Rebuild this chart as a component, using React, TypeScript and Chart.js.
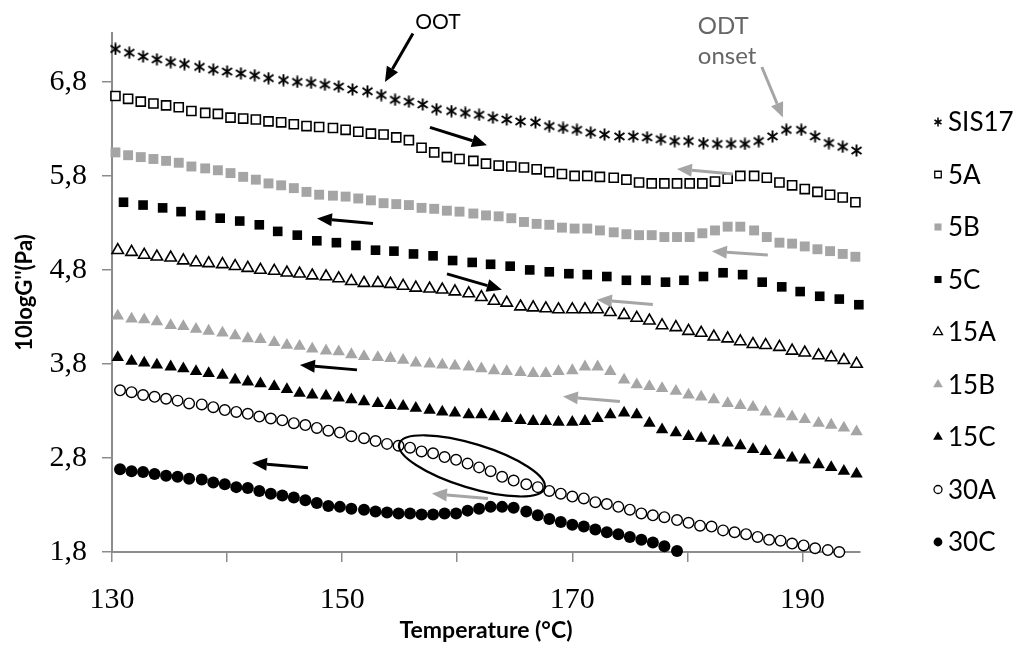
import { useEffect, useRef } from 'react';
import { Chart, registerables } from 'chart.js';
import { drawPoint } from 'chart.js/helpers';

Chart.register(...registerables);

// Temperature grids (°C) of the individual sweeps
const tempSIS17 = [130.3, 131.5, 132.7, 133.9, 135.1, 136.3, 137.6, 138.8, 140.0, 141.2, 142.4, 143.6, 144.9, 146.1, 147.3, 148.5, 149.7, 150.9, 152.2, 153.4, 154.6, 155.8, 157.0, 158.2, 159.5, 160.7, 161.9, 163.1, 164.3, 165.5, 166.8, 168.0, 169.2, 170.4, 171.6, 172.8, 174.1, 175.3, 176.5, 177.7, 178.9, 180.1, 181.4, 182.6, 183.8, 185.0, 186.2, 187.4, 188.6, 189.9, 191.1, 192.3, 193.5, 194.7];
const temp5AB = [130.3, 131.4, 132.5, 133.6, 134.7, 135.8, 136.9, 138.1, 139.2, 140.3, 141.4, 142.5, 143.6, 144.7, 145.8, 146.9, 148.0, 149.2, 150.3, 151.4, 152.5, 153.6, 154.7, 155.8, 156.9, 158.0, 159.1, 160.2, 161.4, 162.5, 163.6, 164.7, 165.8, 166.9, 168.0, 169.1, 170.2, 171.3, 172.4, 173.6, 174.7, 175.8, 176.9, 178.0, 179.1, 180.2, 181.3, 182.4, 183.5, 184.6, 185.8, 186.9, 188.0, 189.1, 190.2, 191.3, 192.4, 193.5, 194.6];
const temp5C = [131.0, 132.7, 134.4, 136.0, 137.7, 139.4, 141.1, 142.8, 144.4, 146.1, 147.8, 149.5, 151.2, 152.9, 154.5, 156.2, 157.9, 159.6, 161.3, 162.9, 164.6, 166.3, 168.0, 169.7, 171.3, 173.0, 174.7, 176.4, 178.1, 179.7, 181.4, 183.1, 184.8, 186.5, 188.2, 189.8, 191.5, 193.2, 194.9];
const temp15 = [130.5, 131.7, 132.8, 133.9, 135.1, 136.2, 137.3, 138.4, 139.6, 140.7, 141.8, 142.9, 144.1, 145.2, 146.3, 147.4, 148.6, 149.7, 150.8, 151.9, 153.1, 154.2, 155.3, 156.4, 157.6, 158.7, 159.8, 161.0, 162.1, 163.2, 164.3, 165.5, 166.6, 167.7, 168.8, 170.0, 171.1, 172.2, 173.3, 174.5, 175.6, 176.7, 177.8, 179.0, 180.1, 181.2, 182.3, 183.5, 184.6, 185.7, 186.8, 188.0, 189.1, 190.2, 191.4, 192.5, 193.6, 194.7];
const temp30 = [130.7, 131.7, 132.7, 133.7, 134.7, 135.7, 136.7, 137.8, 138.8, 139.8, 140.8, 141.8, 142.8, 143.8, 144.8, 145.8, 146.8, 147.8, 148.8, 149.8, 150.8, 151.9, 152.9, 153.9, 154.9, 155.9, 156.9, 157.9, 158.9, 159.9, 160.9, 161.9, 162.9, 163.9, 164.9, 166.0, 167.0, 168.0, 169.0, 170.0, 171.0, 172.0, 173.0, 174.0, 175.0, 176.0, 177.0, 178.0, 179.1, 180.1, 181.1, 182.1, 183.1, 184.1, 185.1, 186.1, 187.1, 188.1, 189.1, 190.1, 191.1, 192.2, 193.2];

// 10logG'' values of each sample
const gSIS17 = [7.15, 7.11, 7.07, 7.04, 7.01, 6.99, 6.96, 6.93, 6.91, 6.89, 6.87, 6.84, 6.82, 6.80, 6.79, 6.77, 6.75, 6.72, 6.70, 6.66, 6.61, 6.59, 6.56, 6.51, 6.49, 6.47, 6.45, 6.42, 6.40, 6.38, 6.37, 6.33, 6.31, 6.29, 6.26, 6.24, 6.22, 6.22, 6.21, 6.19, 6.17, 6.17, 6.15, 6.14, 6.14, 6.14, 6.17, 6.22, 6.29, 6.29, 6.22, 6.15, 6.11, 6.07];
const g5A = [6.65, 6.62, 6.59, 6.57, 6.55, 6.53, 6.49, 6.47, 6.46, 6.42, 6.41, 6.40, 6.38, 6.37, 6.35, 6.33, 6.32, 6.31, 6.29, 6.27, 6.25, 6.24, 6.21, 6.18, 6.10, 6.05, 6.00, 5.98, 5.96, 5.93, 5.91, 5.90, 5.89, 5.87, 5.84, 5.82, 5.80, 5.80, 5.79, 5.78, 5.76, 5.73, 5.72, 5.72, 5.72, 5.72, 5.72, 5.74, 5.77, 5.80, 5.80, 5.78, 5.73, 5.70, 5.66, 5.63, 5.60, 5.57, 5.52];
const g5B = [6.05, 6.02, 6.00, 5.98, 5.96, 5.94, 5.90, 5.88, 5.86, 5.83, 5.79, 5.76, 5.72, 5.70, 5.67, 5.63, 5.60, 5.59, 5.58, 5.56, 5.54, 5.51, 5.50, 5.49, 5.46, 5.45, 5.43, 5.42, 5.40, 5.38, 5.37, 5.35, 5.31, 5.29, 5.28, 5.25, 5.24, 5.24, 5.22, 5.20, 5.18, 5.17, 5.17, 5.15, 5.15, 5.15, 5.19, 5.22, 5.26, 5.26, 5.22, 5.15, 5.09, 5.08, 5.05, 5.02, 5.00, 4.97, 4.94];
const g5C = [5.52, 5.49, 5.46, 5.42, 5.38, 5.35, 5.32, 5.28, 5.21, 5.17, 5.11, 5.09, 5.06, 5.01, 5.00, 4.97, 4.95, 4.90, 4.88, 4.86, 4.84, 4.80, 4.78, 4.76, 4.75, 4.73, 4.69, 4.69, 4.67, 4.69, 4.73, 4.77, 4.75, 4.67, 4.62, 4.57, 4.52, 4.49, 4.43];
const g15A = [5.01, 4.99, 4.96, 4.94, 4.93, 4.90, 4.88, 4.87, 4.86, 4.84, 4.82, 4.80, 4.79, 4.77, 4.76, 4.74, 4.73, 4.71, 4.68, 4.66, 4.66, 4.65, 4.63, 4.61, 4.60, 4.59, 4.57, 4.55, 4.51, 4.47, 4.45, 4.41, 4.40, 4.39, 4.38, 4.38, 4.38, 4.38, 4.35, 4.32, 4.29, 4.26, 4.21, 4.19, 4.15, 4.13, 4.09, 4.07, 4.04, 4.01, 4.00, 3.98, 3.94, 3.92, 3.89, 3.87, 3.84, 3.80];
const g15B = [4.31, 4.28, 4.27, 4.25, 4.21, 4.20, 4.17, 4.15, 4.13, 4.10, 4.07, 4.06, 4.03, 4.00, 3.99, 3.96, 3.94, 3.93, 3.90, 3.88, 3.87, 3.86, 3.84, 3.81, 3.80, 3.79, 3.78, 3.77, 3.75, 3.73, 3.72, 3.71, 3.70, 3.70, 3.72, 3.73, 3.77, 3.77, 3.72, 3.63, 3.58, 3.56, 3.54, 3.51, 3.47, 3.45, 3.42, 3.38, 3.36, 3.34, 3.29, 3.27, 3.24, 3.21, 3.17, 3.15, 3.12, 3.08];
const g15C = [3.87, 3.83, 3.81, 3.79, 3.77, 3.75, 3.72, 3.70, 3.68, 3.63, 3.61, 3.59, 3.56, 3.53, 3.49, 3.47, 3.46, 3.44, 3.42, 3.40, 3.38, 3.36, 3.35, 3.33, 3.31, 3.29, 3.28, 3.26, 3.26, 3.24, 3.22, 3.20, 3.19, 3.19, 3.18, 3.18, 3.19, 3.22, 3.26, 3.28, 3.26, 3.17, 3.10, 3.07, 3.03, 3.01, 2.98, 2.96, 2.93, 2.89, 2.87, 2.83, 2.80, 2.78, 2.73, 2.70, 2.66, 2.63];
const g30A = [3.52, 3.50, 3.47, 3.45, 3.43, 3.41, 3.38, 3.37, 3.34, 3.31, 3.29, 3.27, 3.24, 3.22, 3.20, 3.17, 3.15, 3.12, 3.09, 3.07, 3.03, 3.01, 2.98, 2.95, 2.93, 2.91, 2.87, 2.85, 2.81, 2.78, 2.74, 2.70, 2.66, 2.60, 2.56, 2.52, 2.49, 2.45, 2.42, 2.39, 2.37, 2.33, 2.31, 2.28, 2.25, 2.21, 2.19, 2.17, 2.14, 2.11, 2.08, 2.07, 2.03, 2.01, 1.99, 1.96, 1.93, 1.92, 1.89, 1.87, 1.84, 1.82, 1.80];
const g30C = [2.68, 2.66, 2.65, 2.63, 2.61, 2.60, 2.58, 2.57, 2.54, 2.52, 2.49, 2.48, 2.45, 2.42, 2.40, 2.38, 2.35, 2.32, 2.29, 2.28, 2.26, 2.25, 2.23, 2.22, 2.21, 2.21, 2.20, 2.20, 2.21, 2.21, 2.24, 2.26, 2.28, 2.28, 2.27, 2.23, 2.19, 2.15, 2.12, 2.09, 2.07, 2.04, 2.01, 1.99, 1.96, 1.93, 1.90, 1.86, 1.81];

const seriesNames = ['SIS17', '5A', '5B', '5C', '15A', '15B', '15C', '30A', '30C'];

// Axis ticks
const xTicks = [130, 140, 150, 160, 170, 180, 190];
const xLabelled = [130, 150, 170, 190];
const yTicks = [1.8, 2.8, 3.8, 4.8, 5.8, 6.8];

// Heating / cooling arrows in data units: [T start, value start, T tip, value tip]
const darkArrows = [
  [156.15, 7.316, 153.72, 6.8],
  [157.63, 6.316, 162.58, 6.126],
  [152.68, 5.295, 147.81, 5.347],
  [159.11, 4.758, 163.88, 4.589],
  [151.29, 3.737, 146.33, 3.789],
  [147.03, 2.695, 142.16, 2.747],
];
const greyArrows = [
  [186.47, 6.958, 188.3, 6.42],
  [183.95, 5.821, 179.09, 5.874],
  [186.99, 4.958, 182.13, 5.0],
  [177.0, 4.432, 172.14, 4.484],
  [174.14, 3.4, 169.18, 3.453],
  [162.67, 2.368, 157.8, 2.421],
];

const GREY = '#a5a5a5';
const AXIS = '#8c8c8c';

// "x with a vertical bar" marker
function makeStar(size: number, lw: number) {
  const c = document.createElement('canvas');
  c.width = size;
  c.height = size;
  const g = c.getContext('2d')!;
  g.strokeStyle = '#000';
  g.lineWidth = lw;
  g.lineCap = 'butt';
  const m = 1.5;
  g.beginPath();
  g.moveTo(m, m + 1.5);
  g.lineTo(size - m, size - m - 1.5);
  g.moveTo(size - m, m + 1.5);
  g.lineTo(m, size - m - 1.5);
  g.moveTo(size / 2, 0.5);
  g.lineTo(size / 2, size - 0.5);
  g.stroke();
  return c;
}

function pts(xs: number[], ys: number[]) {
  return ys.map((y, i) => ({ x: xs[i], y }));
}

function arrow(ctx: CanvasRenderingContext2D, x1: number, y1: number, x2: number, y2: number, color: string) {
  const a = Math.atan2(y2 - y1, x2 - x1);
  const head = 15;
  const half = 6.5;
  const bx = x2 - head * Math.cos(a);
  const by = y2 - head * Math.sin(a);
  ctx.strokeStyle = color;
  ctx.fillStyle = color;
  ctx.lineWidth = 3;
  ctx.beginPath();
  ctx.moveTo(x1, y1);
  ctx.lineTo(bx, by);
  ctx.stroke();
  ctx.beginPath();
  ctx.moveTo(x2, y2);
  ctx.lineTo(bx + half * Math.sin(a), by - half * Math.cos(a));
  ctx.lineTo(bx - half * Math.sin(a), by + half * Math.cos(a));
  ctx.closePath();
  ctx.fill();
}

export default function App() {
  const ref = useRef<HTMLCanvasElement | null>(null);

  useEffect(() => {
    if (!ref.current) return;
    const star = makeStar(13, 1.9);
    const starSmall = makeStar(10, 1.5);

    const styles = [
      { pointStyle: star, radius: 6, fill: '#000', stroke: '#000', bw: 0, legend: { pointStyle: starSmall, radius: 4 } },
      { pointStyle: 'rect', radius: 6.4, fill: '#fff', stroke: '#000', bw: 1.6, legend: { pointStyle: 'rect', radius: 4.6 } },
      { pointStyle: 'rect', radius: 7, fill: GREY, stroke: GREY, bw: 0, legend: { pointStyle: 'rect', radius: 5 } },
      { pointStyle: 'rect', radius: 6.8, fill: '#000', stroke: '#000', bw: 0, legend: { pointStyle: 'rect', radius: 5 } },
      { pointStyle: 'triangle', radius: 6.6, fill: '#fff', stroke: '#000', bw: 1.6, legend: { pointStyle: 'triangle', radius: 5.2 } },
      { pointStyle: 'triangle', radius: 7.2, fill: GREY, stroke: GREY, bw: 0, legend: { pointStyle: 'triangle', radius: 5.6 } },
      { pointStyle: 'triangle', radius: 7.2, fill: '#000', stroke: '#000', bw: 0, legend: { pointStyle: 'triangle', radius: 5.6 } },
      { pointStyle: 'circle', radius: 5.3, fill: '#fff', stroke: '#000', bw: 1.4, legend: { pointStyle: 'circle', radius: 4 } },
      { pointStyle: 'circle', radius: 6, fill: '#000', stroke: '#000', bw: 0, legend: { pointStyle: 'circle', radius: 4.4 } },
    ];

    const series = [
      pts(tempSIS17, gSIS17),
      pts(temp5AB, g5A),
      pts(temp5AB, g5B),
      pts(temp5C, g5C),
      pts(temp15, g15A),
      pts(temp15, g15B),
      pts(temp15, g15C),
      pts(temp30, g30A),
      pts(temp30, g30C),
    ];

    const datasets = series.map((data, i) => ({
      label: seriesNames[i],
      data,
      showLine: false,
      pointStyle: styles[i].pointStyle as any,
      pointRadius: styles[i].radius,
      pointBackgroundColor: styles[i].fill,
      pointBorderColor: styles[i].stroke,
      pointBorderWidth: styles[i].bw,
      clip: false as any,
    }));

    const overlay = {
      id: 'overlay',
      afterDraw(chart: any) {
        const { ctx } = chart;
        const xs = chart.scales.x;
        const ys = chart.scales.y;
        const px = (t: number) => xs.getPixelForValue(t);
        const py = (v: number) => ys.getPixelForValue(v);
        ctx.save();

        darkArrows.forEach(([a, b, c, d]) => arrow(ctx, px(a), py(b), px(c), py(d), '#000'));
        greyArrows.forEach(([a, b, c, d]) => arrow(ctx, px(a), py(b), px(c), py(d), GREY));

        // ellipse round the overlapping 30A points
        ctx.strokeStyle = '#000';
        ctx.lineWidth = 2.2;
        ctx.beginPath();
        ctx.ellipse(px(161.28), py(2.716), 76, 22, (17 * Math.PI) / 180, 0, Math.PI * 2);
        ctx.stroke();

        // callouts
        ctx.textBaseline = 'middle';
        ctx.font = '21px Lato';
        ctx.fillStyle = '#000';
        ctx.textAlign = 'center';
        ctx.fillText('OOT', px(158.32), py(7.43));
        ctx.font = '24px Lato';
        ctx.fillStyle = '#666';
        ctx.textAlign = 'left';
        ctx.fillText('ODT', px(180.91), py(7.389));
        ctx.fillText('onset', px(180.91), py(7.074));

        // legend
        const lx = 938;
        const tx = 948;
        ctx.font = '26px Lato';
        ctx.textAlign = 'left';
        styles.forEach((s, i) => {
          const y = 122 + 52.5 * i;
          ctx.fillStyle = s.fill;
          ctx.strokeStyle = s.stroke;
          ctx.lineWidth = s.bw ? 1.3 : 0;
          drawPoint(ctx, { pointStyle: s.legend.pointStyle as any, radius: s.legend.radius, rotation: 0, borderWidth: s.bw ? 1.3 : 0 } as any, lx, y);
          ctx.fillStyle = '#000';
          ctx.fillText(seriesNames[i], tx, y + 1);
        });
        ctx.restore();
      },
    };

    const tickFont = { family: 'Liberation Serif', size: 30 };

    const chart = new Chart(ref.current, {
      type: 'scatter',
      data: { datasets: datasets as any },
      plugins: [overlay],
      options: {
        animation: false,
        responsive: false,
        maintainAspectRatio: false,
        devicePixelRatio: 1,
        layout: { padding: { top: 28, right: 161, left: 0, bottom: 0 } },
        plugins: { legend: { display: false }, tooltip: { enabled: false } },
        scales: {
          x: {
            type: 'linear',
            min: 130,
            max: 195,
            afterBuildTicks: (s: any) => {
              s.ticks = xTicks.map((v) => ({ value: v }));
            },
            afterFit: (s: any) => {
              s.height = 98;
            },
            ticks: {
              autoSkip: false,
              maxRotation: 0,
              padding: 20,
              color: '#000',
              font: tickFont,
              callback: (v: any) => (xLabelled.includes(Number(v)) ? String(v) : ''),
            },
            grid: { drawOnChartArea: false, drawTicks: true, tickLength: 10, color: AXIS, lineWidth: 1.5 },
            border: { display: true, color: AXIS, width: 2 },
            title: {
              display: true,
              text: 'Temperature (°C)',
              color: '#000',
              font: { family: 'Lato', size: 23, weight: 'bold' },
              padding: { top: 0, bottom: 6 },
            },
          },
          y: {
            type: 'linear',
            min: 1.8,
            max: 7.32,
            afterBuildTicks: (s: any) => {
              s.ticks = yTicks.map((v) => ({ value: v }));
            },
            afterFit: (s: any) => {
              s.width = 112;
            },
            ticks: {
              autoSkip: false,
              padding: 15,
              color: '#000',
              font: tickFont,
              callback: (v: any) => Number(v).toFixed(1).replace('.', ','),
            },
            grid: { drawOnChartArea: false, drawTicks: true, tickLength: 10, color: AXIS, lineWidth: 1.5 },
            border: { display: true, color: AXIS, width: 2 },
            title: {
              display: true,
              text: "10logG''(Pa)",
              color: '#000',
              font: { family: 'Lato', size: 22, weight: 'bold' },
              padding: { top: 12, bottom: 0 },
            },
          },
        },
      } as any,
    });

    return () => chart.destroy();
  }, []);

  return (
    <div style={{ position: 'fixed', left: 0, top: 0, width: 1021, height: 650, background: '#fff' }}>
      <canvas ref={ref} width={1021} height={650} />
    </div>
  );
}
